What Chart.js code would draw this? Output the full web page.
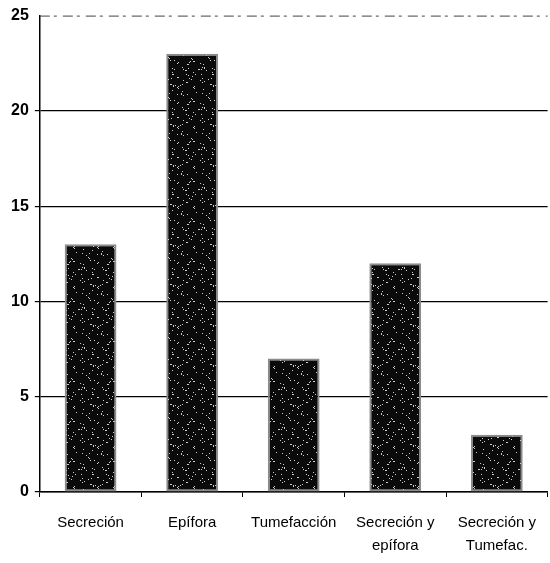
<!DOCTYPE html>
<html>
<head>
<meta charset="utf-8">
<script src="https://cdn.jsdelivr.net/npm/chart.js@4/dist/chart.umd.min.js"></script>
<style>
  html, body { margin: 0; padding: 0; background: #fff; }
  #wrap { width: 550px; height: 563px; position: relative; }
</style>
</head>
<body>
<div id="wrap"><canvas id="c"></canvas></div>
<script>
const categories = [['Secreción'], ['Epífora'], ['Tumefacción'], ['Secreción y', 'epífora'], ['Secreción y', 'Tumefac.']];
const values = [13, 23, 7, 12, 3];
const yTicks = [0, 5, 10, 15, 20, 25];

// speckled dark fill, deterministic hash instead of random
function makePattern() {
    const n = 40;
    const p = document.createElement('canvas');
    p.width = n; p.height = n;
    const g = p.getContext('2d');
    g.fillStyle = '#0b0b0b';
    g.fillRect(0, 0, n, n);
    g.fillStyle = '#cfcfcf';
    for (let y = 0; y < n; y++) {
        for (let x = 0; x < n; x++) {
            const h = ((x * 73856093) ^ (y * 19349663) ^ (x * y * 83492791)) >>> 0;
            if (h % 23 === 0) g.fillRect(x, y, 1, 1);
        }
    }
    return g.createPattern(p, 'repeat');
}

const topDash = {
    id: 'topDash',
    afterDraw(chart) {
        const { ctx, chartArea, scales } = chart;
        const y = scales.y.getPixelForValue(25);
        ctx.save();
        ctx.strokeStyle = '#444';
        ctx.lineWidth = 1;
        ctx.setLineDash([10, 4, 3, 6]);
        ctx.beginPath();
        ctx.moveTo(chartArea.left, y + 0.5);
        ctx.lineTo(chartArea.right, y + 0.5);
        ctx.stroke();
        ctx.restore();
    }
};

const ctx = document.getElementById('c');
new Chart(ctx, {
    type: 'bar',
    data: {
        labels: categories,
        datasets: [{
            data: values,
            backgroundColor: makePattern(),
            borderColor: '#8c8c8c',
            borderWidth: 2,
            borderSkipped: false,
            categoryPercentage: 1,
            barPercentage: 0.51,
        }],
    },
    options: {
        responsive: true,
        maintainAspectRatio: false,
        animation: false,
        layout: { padding: { top: 8, right: 0, left: 5, bottom: 0 } },
        plugins: { legend: { display: false }, tooltip: { enabled: false } },
        scales: {
            x: {
                afterFit: (s) => { s.height = 71; },
                grid: { drawOnChartArea: false, color: '#000', tickLength: 5, offset: true },
                border: { color: '#000', width: 1.5 },
                ticks: { color: '#000', padding: 14, maxRotation: 0, font: { family: "'Liberation Sans', Arial", size: 15, lineHeight: 1.55 } },
            },
            y: {
                min: 0, max: 25,
                afterBuildTicks: (s) => { s.ticks = yTicks.map(v => ({ value: v })); },
                grid: {
                    color: (c) => (c.tick && c.tick.value === 25) ? 'rgba(0,0,0,0)' : '#000',
                    lineWidth: 1.2,
                    tickLength: 5,
                },
                border: { color: '#000', width: 1.5 },
                ticks: { color: '#000', padding: 6, font: { family: "'Liberation Sans', Arial", size: 16, weight: 'bold' } },
            },
        },
    },
    plugins: [topDash],
});
</script>
</body>
</html>
